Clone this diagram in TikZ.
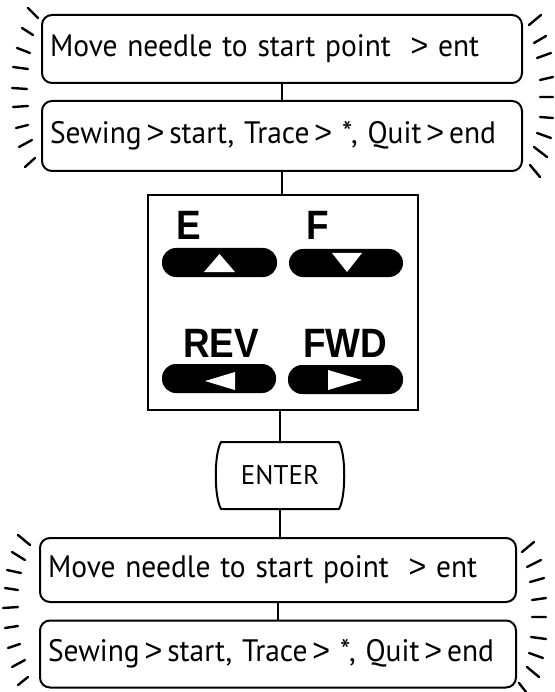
\documentclass[tikz,border=0pt]{standalone}
\usepackage{fontspec}
\newfontfamily\boxfont{PT Sans}
\newfontfamily\keyfont{Liberation Sans}
\newcommand{\gtsym}{{\keyfont\fontsize{32}{32}\selectfont >}}
\begin{document}
\begin{tikzpicture}[x=1pt,y=-1pt,
  line width=2pt,
  msgbox/.style={draw, rounded corners=10pt, minimum width=#1, inner xsep=8pt, text width=#1-16pt, align=left, font=\boxfont\fontsize{31}{33}\selectfont},
  pad/.style={draw, minimum width=270pt, minimum height=215pt, inner sep=0pt},
  pill/.style={fill=black, rounded corners=14pt},
  keylabel/.style={anchor=base west, inner sep=0pt, font=\keyfont\bfseries\fontsize{41}{41}\selectfont},
  ray/.style={line width=2.4pt, line cap=round},
  tri/.style={fill=white}]
\useasboundingbox (0,0) rectangle (554,692);

% message boxes
\node[msgbox=480pt, minimum height=68pt] (b1) at (282,49) {\scalebox{0.95}[1]{Move needle to start point\ \ \gtsym\ ent}};
\node[msgbox=480pt, minimum height=70pt] (b2) at (282,136) {\scalebox{0.95}[1]{Sewing\,\gtsym\,start, Trace\,\gtsym\ *, Quit\,\gtsym\,end}};
\node[msgbox=476pt, minimum height=64pt] (b3) at (278,570) {\scalebox{0.95}[1]{Move needle to start point\ \ \gtsym\ ent}};
\node[msgbox=476pt, minimum height=67pt] (b4) at (278,654) {\scalebox{0.95}[1]{Sewing\,\gtsym\,start, Trace\,\gtsym\ *, Quit\,\gtsym\,end}};

% keypad
\node[pad] (kp) at (283,302.5) {};
\fill[pill] (162,248) rectangle (277,277);
\fill[pill] (289,249) rectangle (403,277);
\fill[pill] (162,364) rectangle (276,393);
\fill[pill] (288,365) rectangle (403,394);
\fill[tri] (204,272) -- (235,272) -- (219.5,254) -- cycle;
\fill[tri] (332,253) -- (362,253) -- (347,272) -- cycle;
\fill[tri] (205,381) -- (235,372) -- (235,390) -- cycle;
\fill[tri] (328,370) -- (328,390) -- (362,380) -- cycle;
\node[keylabel] (lE) at (175,240) {\scalebox{0.9}[1]{E}};
\node[keylabel] (lF) at (305,240) {\scalebox{0.9}[1]{F}};
\node[keylabel] (lR) at (182,357) {\scalebox{0.9}[1]{REV}};
\node[keylabel] (lW) at (302,357) {\scalebox{0.9}[1]{FWD}};

% ENTER
\node[minimum width=116pt, minimum height=65pt, inner sep=0pt, font=\boxfont\fontsize{27}{29}\selectfont] (en) at (280,475.5) {ENTER};
\draw[line join=round] (en.north west) -- (en.north east)
  .. controls +(7,12) and +(7,-12) .. (en.south east)
  -- (en.south west)
  .. controls +(-7,-12) and +(-7,12) .. (en.north west) -- cycle;

% connectors
\draw (b1.south) -- (b2.north);
\draw (b2.south) -- (b2.south |- kp.north);
\draw (en.north) -- (en.north |- kp.south);
\draw (en.south) -- (en.south |- b3.north);
\draw (b3.south) -- (b4.north);

% rays top-left
\draw[ray] (28,8)--(38,18) (22,28)--(33,35) (17,48)--(30,53) (13,67)--(28,69) (12,88)--(27,89)
  (13,107)--(28,106) (16,128)--(28,125) (19,147)--(32,140) (25,167)--(35,158);
% rays top-right
\draw[ray] (529,25)--(541,15) (534,43)--(546,36) (537,58)--(551,53) (540,80)--(553,77) (540,97)--(553,97)
  (540,117)--(553,118) (537,133)--(551,138) (534,147)--(547,157) (530,165)--(540,177);
% rays bottom-left
\draw[ray] (18,535)--(30,545) (12,552)--(25,560) (7,570)--(21,573) (5,588)--(18,590) (3,608)--(18,607)
  (5,628)--(18,626) (8,648)--(20,644) (12,667)--(25,660) (18,685)--(28,677);
% rays bottom-right
\draw[ray] (522,552)--(534,542) (527,567)--(541,560) (530,582)--(544,578) (532,600)--(546,598) (532,617)--(546,617)
  (531,637)--(546,639) (529,653)--(543,658) (527,667)--(539,677) (519,683)--(526,692);
\end{tikzpicture}
\end{document}
